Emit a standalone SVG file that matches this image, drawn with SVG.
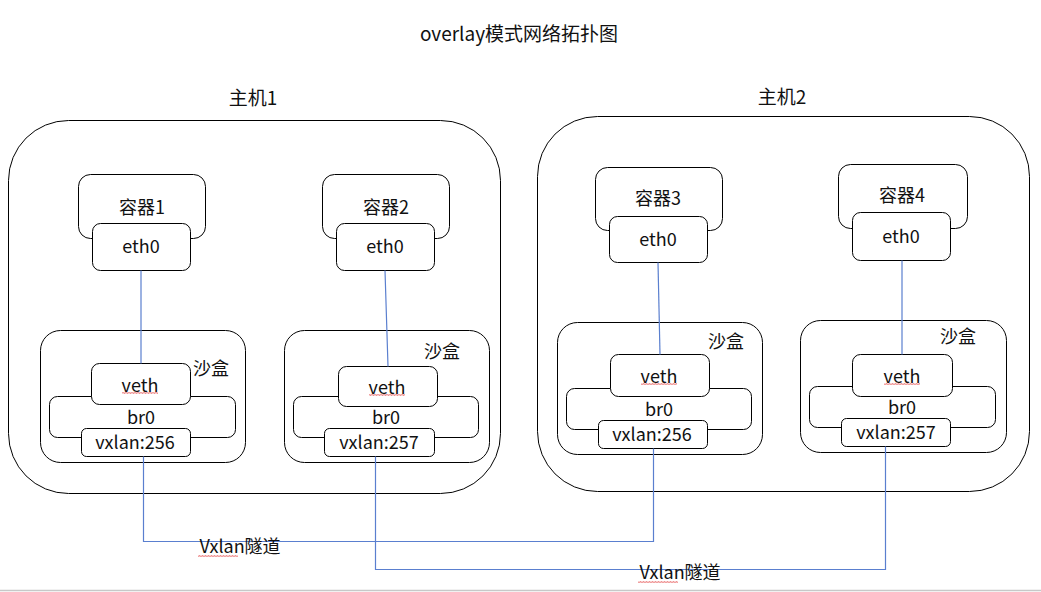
<svg xmlns="http://www.w3.org/2000/svg" width="1041" height="592" viewBox="0 0 1041 592">
<defs>
<style>
text{font-family:"Noto Sans CJK SC","Noto Sans",sans-serif;fill:#111;text-anchor:middle;font-size:18px}
.t{font-size:19px}
.b{fill:#fff;stroke:#000;stroke-width:1}
.c{fill:none;stroke:#5a7fcf;stroke-width:1.2}
</style>
<pattern id="sq" width="3" height="2" patternUnits="userSpaceOnUse">
<path d="M0 1.7 L0.75 0.3 L1.5 1.7 L2.25 0.3 L3 1.7" fill="none" stroke="#e03030" stroke-width="0.5"/>
</pattern>
</defs>
<rect width="1041" height="592" fill="#fff"/>
<line x1="0" y1="590.5" x2="1041" y2="590.5" stroke="#c8c8c8" stroke-width="1.5"/>
<text class="t" x="519" y="41">overlay模式网络拓扑图</text>

<g id="host1">
<rect class="b" x="8.5" y="120.5" width="492" height="373" rx="60"/>
<text class="t" x="253" y="105">主机1</text>
</g>
<g id="host2">
<rect class="b" x="537.5" y="116.5" width="492" height="375" rx="60"/>
<text class="t" x="782" y="104">主机2</text>
</g>

<g id="container1">
<rect class="b" x="78.5" y="174.5" width="127" height="64" rx="12"/>
<text x="142" y="214">容器1</text>
</g>
<g id="eth0-1">
<rect class="b" x="92.5" y="223.5" width="98" height="47" rx="8"/>
<text x="141" y="252.5">eth0</text>
</g>
<g id="container2">
<rect class="b" x="322.5" y="174.5" width="127" height="64" rx="12"/>
<text x="386" y="214">容器2</text>
</g>
<g id="eth0-2">
<rect class="b" x="336.5" y="223.5" width="98" height="47" rx="8"/>
<text x="385" y="252.5">eth0</text>
</g>
<g id="container3">
<rect class="b" x="595.5" y="167.5" width="127" height="63" rx="12"/>
<text x="658" y="205">容器3</text>
</g>
<g id="eth0-3">
<rect class="b" x="609.5" y="216.5" width="98" height="46" rx="8"/>
<text x="658" y="245.5">eth0</text>
</g>
<g id="container4">
<rect class="b" x="838.5" y="164.5" width="129" height="64" rx="12"/>
<text x="902" y="202">容器4</text>
</g>
<g id="eth0-4">
<rect class="b" x="852.5" y="212.5" width="98" height="48" rx="8"/>
<text x="901" y="242.5">eth0</text>
</g>

<g id="sandbox1">
<rect class="b" x="40.5" y="330.5" width="205" height="132" rx="20"/>
<text x="211" y="375">沙盒</text>
</g>
<g id="br0-1">
<rect class="b" x="49.5" y="396.5" width="186" height="41" rx="8"/>
<text x="141" y="423.5">br0</text>
</g>
<g id="veth1">
<rect class="b" x="91.5" y="363.5" width="99" height="41" rx="8"/>
<text x="140" y="391.5">veth</text>
<rect x="122" y="392" width="36" height="2" fill="url(#sq)"/>
</g>
<g id="vxlan1">
<rect class="b" x="81.5" y="428.5" width="109" height="28" rx="5"/>
<text x="135" y="449">vxlan:256</text>
</g>

<g id="sandbox2">
<rect class="b" x="284.5" y="330.5" width="205" height="132" rx="20"/>
<text x="442" y="358">沙盒</text>
</g>
<g id="br0-2">
<rect class="b" x="293.5" y="396.5" width="185" height="41" rx="8"/>
<text x="386" y="423.5">br0</text>
</g>
<g id="veth2">
<rect class="b" x="338.5" y="366.5" width="99" height="40" rx="8"/>
<text x="387" y="393.5">veth</text>
<rect x="369" y="394" width="36" height="2" fill="url(#sq)"/>
</g>
<g id="vxlan2">
<rect class="b" x="324.5" y="428.5" width="110" height="28" rx="5"/>
<text x="379" y="449">vxlan:257</text>
</g>

<g id="sandbox3">
<rect class="b" x="557.5" y="322.5" width="205" height="132" rx="20"/>
<text x="726" y="348">沙盒</text>
</g>
<g id="br0-3">
<rect class="b" x="566.5" y="388.5" width="185" height="41" rx="8"/>
<text x="659" y="415.5">br0</text>
</g>
<g id="veth3">
<rect class="b" x="610.5" y="354.5" width="99" height="42" rx="8"/>
<text x="659" y="382.5">veth</text>
<rect x="641" y="383" width="36" height="2" fill="url(#sq)"/>
</g>
<g id="vxlan3">
<rect class="b" x="598.5" y="420.5" width="109" height="28" rx="5"/>
<text x="652" y="441">vxlan:256</text>
</g>

<g id="sandbox4">
<rect class="b" x="800.5" y="320.5" width="206" height="132" rx="20"/>
<text x="958" y="343">沙盒</text>
</g>
<g id="br0-4">
<rect class="b" x="809.5" y="386.5" width="186" height="41" rx="8"/>
<text x="902" y="413.5">br0</text>
</g>
<g id="veth4">
<rect class="b" x="852.5" y="354.5" width="100" height="42" rx="8"/>
<text x="902" y="382.5">veth</text>
<rect x="884" y="383" width="36" height="2" fill="url(#sq)"/>
</g>
<g id="vxlan4">
<rect class="b" x="841.5" y="418.5" width="109" height="28" rx="5"/>
<text x="896" y="439">vxlan:257</text>
</g>

<g id="connectors">
<line class="c" x1="141" y1="270.5" x2="141" y2="363.5"/>
<line class="c" x1="385" y1="270.5" x2="388" y2="366.5"/>
<line class="c" x1="658" y1="262.5" x2="660" y2="354.5"/>
<line class="c" x1="902" y1="260.5" x2="902" y2="354.5"/>
<polyline class="c" points="143.5,456.5 143.5,541.5 653.5,541.5 653.5,448.5"/>
<polyline class="c" points="375.5,456.5 375.5,569.5 885.5,569.5 885.5,446.5"/>
<text x="240" y="552.5">Vxlan隧道</text>
<rect x="198" y="555" width="40" height="2" fill="url(#sq)"/>
<text x="680" y="578.5">Vxlan隧道</text>
<rect x="638" y="581" width="40" height="2" fill="url(#sq)"/>
</g>
</svg>
